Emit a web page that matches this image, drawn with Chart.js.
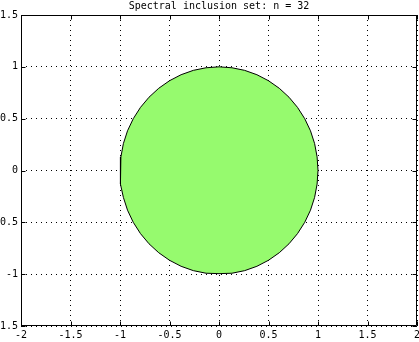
<!DOCTYPE html>
<html>
<head>
<meta charset="utf-8">
<script src="https://cdn.jsdelivr.net/npm/chart.js@4"></script>
<style>
  body { margin: 0; background: #fff; }
  canvas { display: block; }
</style>
</head>
<body>
<canvas id="chart" width="419" height="342"></canvas>
<script>
// boundary of the inclusion set
const boundaryX = [1, 0.991, 0.966, 0.924, 0.866, 0.793, 0.707, 0.609, 0.5, 0.383, 0.259, 0.131, 0,
  -0.131, -0.259, -0.383, -0.5, -0.609, -0.707, -0.793, -0.866, -0.924, -0.966, -0.991, -1,
  -0.991, -0.966, -0.924, -0.866, -0.793, -0.707, -0.609, -0.5, -0.383, -0.259, -0.131, 0,
  0.131, 0.259, 0.383, 0.5, 0.609, 0.707, 0.793, 0.866, 0.924, 0.966, 0.991, 1];
const boundaryY = [0, 0.131, 0.259, 0.383, 0.5, 0.609, 0.707, 0.793, 0.866, 0.924, 0.966, 0.991, 1,
  0.991, 0.966, 0.924, 0.866, 0.793, 0.707, 0.609, 0.5, 0.383, 0.259, 0.131, 0,
  -0.131, -0.259, -0.383, -0.5, -0.609, -0.707, -0.793, -0.866, -0.924, -0.966, -0.991, -0.995,
  -0.991, -0.966, -0.924, -0.866, -0.793, -0.707, -0.609, -0.5, -0.383, -0.259, -0.131, 0];

const xTicks = [-2, -1.5, -1, -0.5, 0, 0.5, 1, 1.5, 2];
const xTickLabels = ["-2", "-1.5", "-1", "-0.5", "0", "0.5", "1", "1.5", "2"];
const yTicks = [-1.5, -1, -0.5, 0, 0.5, 1, 1.5];
const yTickLabels = ["-1.5", "-1", "-0.5", "0", "0.5", "1", "1.5"];
const titleText = "Spectral inclusion set: n = 32";

const points = boundaryX.map((x, i) => ({ x: x, y: boundaryY[i] }));
const font = { family: "'DejaVu Sans Mono', monospace", size: 10, lineHeight: 1.2 };

function labelFor(ticks, labels) {
  return function (value) {
    const i = ticks.findIndex(t => Math.abs(t - value) < 1e-9);
    return i >= 0 ? labels[i] : "";
  };
}

// axes box, short inward tick marks, and the title centred over the plot area
const boxPlugin = {
  id: "box",
  afterDraw(chart) {
    const ctx = chart.ctx;
    const a = chart.chartArea;
    const xs = chart.scales.x, ys = chart.scales.y;
    const L = Math.round(a.left) + 0.5, R = Math.round(a.right) - 0.5;
    const T = Math.round(a.top) + 0.5, B = Math.round(a.bottom) - 0.5;
    ctx.save();
    ctx.strokeStyle = "#000";
    ctx.lineWidth = 1;
    ctx.beginPath();
    ctx.rect(L, T, R - L, B - T);
    xTicks.forEach(v => {
      const px = Math.round(xs.getPixelForValue(v)) + 0.5;
      ctx.moveTo(px, B); ctx.lineTo(px, B - 4);
      ctx.moveTo(px, T); ctx.lineTo(px, T + 4);
    });
    yTicks.forEach(v => {
      const py = Math.round(ys.getPixelForValue(v)) + 0.5;
      ctx.moveTo(L, py); ctx.lineTo(L + 4, py);
      ctx.moveTo(R, py); ctx.lineTo(R - 4, py);
    });
    ctx.stroke();

    ctx.fillStyle = "#000";
    ctx.font = "10px 'DejaVu Sans Mono', monospace";
    ctx.textAlign = "center";
    ctx.textBaseline = "middle";
    ctx.fillText(titleText, (a.left + a.right) / 2, 6);
    ctx.restore();
  }
};

new Chart(document.getElementById("chart"), {
  type: "scatter",
  data: {
    datasets: [{
      data: points,
      showLine: true,
      fill: "shape",
      backgroundColor: "#96fa6e",
      borderColor: "#000",
      borderWidth: 1,
      borderJoinStyle: "round",
      pointRadius: 0,
      tension: 0
    }]
  },
  options: {
    responsive: false,
    animation: false,
    devicePixelRatio: 1,
    layout: { padding: { left: 0, right: 2, top: 15, bottom: 0 } },
    plugins: {
      legend: { display: false },
      tooltip: { enabled: false },
      title: { display: false }
    },
    scales: {
      x: {
        type: "linear",
        min: -2, max: 2,
        z: 1,
        afterFit(scale) { scale.height = 16; scale.paddingLeft = 0; scale.paddingRight = 0; },
        afterBuildTicks(scale) { scale.ticks = xTicks.map(v => ({ value: v })); },
        ticks: { autoSkip: false, maxRotation: 0, padding: 3, color: "#000", font: font, callback: labelFor(xTicks, xTickLabels) },
        grid: { color: "#000", lineWidth: 1, drawTicks: false },
        border: { display: false, dash: [1, 4] }
      },
      y: {
        type: "linear",
        min: -1.5, max: 1.5,
        z: 1,
        afterFit(scale) { scale.width = 21; scale.paddingTop = 0; scale.paddingBottom = 0; },
        afterBuildTicks(scale) { scale.ticks = yTicks.map(v => ({ value: v })); },
        ticks: { autoSkip: false, padding: 3, color: "#000", font: font, callback: labelFor(yTicks, yTickLabels) },
        grid: { color: "#000", lineWidth: 1, drawTicks: false },
        border: { display: false, dash: [1, 4] }
      }
    }
  },
  plugins: [boxPlugin]
});
</script>
</body>
</html>
